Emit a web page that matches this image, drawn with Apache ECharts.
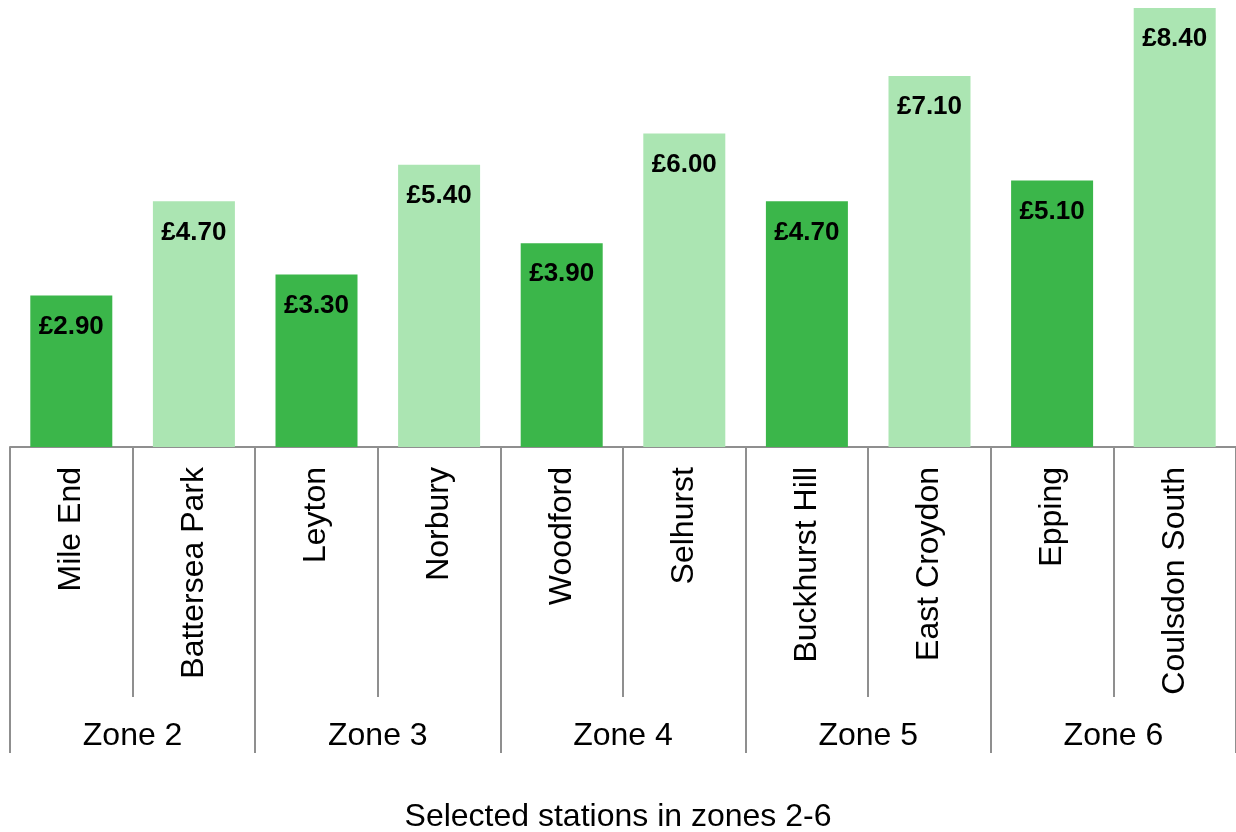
<!DOCTYPE html>
<html>
<head>
<meta charset="utf-8">
<style>
  html, body { margin: 0; padding: 0; background: #fff; }
  #chart { width: 1236px; height: 832px; }
</style>
<script src="https://cdn.jsdelivr.net/npm/echarts@6/dist/echarts.min.js"></script>
</head>
<body>
<div id="chart"></div>
<script>
const stations = ['Mile End', 'Battersea Park', 'Leyton', 'Norbury', 'Woodford', 'Selhurst',
  'Buckhurst Hill', 'East Croydon', 'Epping', 'Coulsdon South'];
const fares = [2.9, 4.7, 3.3, 5.4, 3.9, 6.0, 4.7, 7.1, 5.1, 8.4];
const zones = ['Zone 2', 'Zone 3', 'Zone 4', 'Zone 5', 'Zone 6'];

const font = 'Liberation Sans, Arial, sans-serif';
const darkGreen = '#3bb64a';
const lightGreen = '#abe5b2';
const lineGrey = '#8f8f8f';

const chart = echarts.init(document.getElementById('chart'));
chart.setOption({
  animation: false,
  title: {
    text: 'Selected stations in zones 2-6',
    left: 'center',
    top: 796,
    textStyle: { fontFamily: font, fontSize: 32, fontWeight: 'normal', color: '#000' }
  },
  grid: { left: 10, right: -2, top: 8, bottom: 385, containLabel: false },
  xAxis: [
    {
      type: 'category',
      data: stations,
      position: 'bottom',
      axisLine: { show: true, lineStyle: { color: lineGrey, width: 2 } },
      axisTick: { show: true, interval: 0, length: 250, lineStyle: { color: lineGrey, width: 2 } },
      axisLabel: {
        interval: 0,
        rotate: 90,
        margin: 20,
        fontFamily: font,
        fontSize: 32,
        color: '#000'
      }
    },
    {
      type: 'category',
      data: zones,
      position: 'bottom',
      axisLine: { show: false },
      axisTick: { show: true, interval: 0, length: 306, lineStyle: { color: lineGrey, width: 2 } },
      axisLabel: {
        interval: 0,
        margin: 273,
        fontFamily: font,
        fontSize: 32,
        color: '#000'
      }
    }
  ],
  yAxis: { type: 'value', min: 0, max: 8.4, show: false },
  series: [
    {
      type: 'bar',
      xAxisIndex: 0,
      data: fares,
      barWidth: 82,
      itemStyle: {
        color: (p) => (p.dataIndex % 2 === 0 ? darkGreen : lightGreen)
      },
      label: {
        show: true,
        position: 'insideTop',
        distance: 18,
        formatter: (p) => '£' + p.value.toFixed(2),
        fontFamily: font,
        fontSize: 26,
        fontWeight: 'bold',
        color: '#000'
      }
    }
  ]
});
</script>
</body>
</html>
